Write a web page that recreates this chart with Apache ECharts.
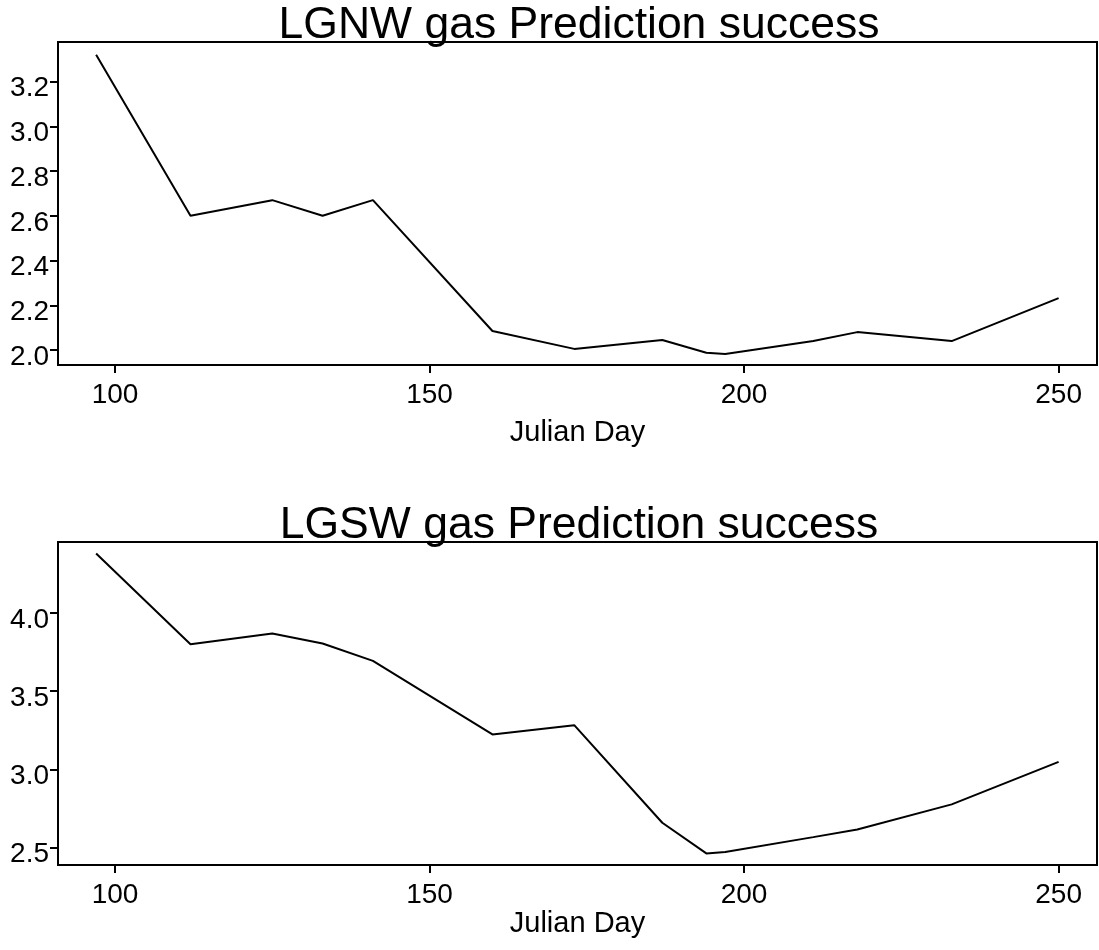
<!DOCTYPE html>
<html>
<head>
<meta charset="utf-8">
<script src="https://cdn.jsdelivr.net/npm/echarts@6/dist/echarts.min.js"></script>
<style>
html,body{margin:0;padding:0;background:#fff;}
#main{width:1099px;height:950px;}
</style>
</head>
<body>
<div id="main"></div>
<script>
// Data
const julianDays = [97, 112, 125, 133, 141, 160, 173, 187, 194, 197, 211, 218, 233, 250];
const lgnwValues = [3.32, 2.60, 2.67, 2.60, 2.67, 2.085, 2.005, 2.045, 1.988, 1.982, 2.04, 2.08, 2.04, 2.232];
const lgswValues = [4.38, 3.80, 3.868, 3.805, 3.694, 3.224, 3.283, 2.66, 2.464, 2.473, 2.568, 2.617, 2.777, 3.049];
const xTicks = [100, 150, 200, 250];
const lgnwTicks = [2.0, 2.2, 2.4, 2.6, 2.8, 3.0, 3.2];
const lgswTicks = [2.5, 3.0, 3.5, 4.0];
const titles = ['LGNW gas Prediction success', 'LGSW gas Prediction success'];
const xName = 'Julian Day';

const FONT = "'Liberation Sans', Arial, sans-serif";
const chart = echarts.init(document.getElementById('main'), null, {renderer: 'canvas'});

function pairs(xs, ys) { return xs.map((x, i) => [x, ys[i]]); }

const gridBase = {left: 58, right: 2, height: 323, show: true, borderColor: '#000', borderWidth: 2, backgroundColor: 'transparent'};

function xAxisFor(gridIndex, nameGap) {
  return {
    type: 'value', gridIndex, min: 90.94, max: 256.1,
    name: xName, nameLocation: 'middle', nameGap,
    nameTextStyle: {fontFamily: FONT, fontSize: 29, color: '#000'},
    splitLine: {show: false},
    axisLine: {show: true, onZero: false, lineStyle: {color: '#000', width: 2}},
    axisTick: {show: true, length: 8, lineStyle: {color: '#000', width: 2}, customValues: xTicks},
    axisLabel: {show: true, margin: 16, fontFamily: FONT, fontSize: 28, color: '#000', customValues: xTicks,
      formatter: v => String(Math.round(v))}
  };
}
function yAxisFor(gridIndex, min, max, ticks) {
  return {
    type: 'value', gridIndex, min, max,
    splitLine: {show: false},
    axisLine: {show: true, onZero: false, lineStyle: {color: '#000', width: 2}},
    axisTick: {show: true, length: 8, lineStyle: {color: '#000', width: 2}, customValues: ticks},
    axisLabel: {show: true, margin: 9, color: '#000', customValues: ticks,
      formatter: v => '{a|' + v.toFixed(1) + '}',
      rich: {a: {fontFamily: FONT, fontSize: 28, color: '#000', padding: [14, 0, 0, 0]}}}
  };
}

const titleStyle = {fontFamily: FONT, fontSize: 44.5, fontWeight: 'normal', color: '#000'};

chart.setOption({
  animation: false,
  backgroundColor: '#fff',
  title: [
    {text: titles[0], left: 579, textAlign: 'center', top: 3, padding: 0, textStyle: titleStyle},
    {text: titles[1], left: 579, textAlign: 'center', top: 503, padding: 0, textStyle: titleStyle}
  ],
  grid: [
    Object.assign({}, gridBase, {top: 42}),
    Object.assign({}, gridBase, {top: 542})
  ],
  xAxis: [xAxisFor(0, 53), xAxisFor(1, 42)],
  yAxis: [yAxisFor(0, 1.933, 3.377, lgnwTicks), yAxisFor(1, 2.39, 4.453, lgswTicks)],
  series: [
    {type: 'line', xAxisIndex: 0, yAxisIndex: 0, data: pairs(julianDays, lgnwValues),
     showSymbol: false, symbol: 'none', lineStyle: {color: '#000', width: 2}, itemStyle: {color: '#000'}},
    {type: 'line', xAxisIndex: 1, yAxisIndex: 1, data: pairs(julianDays, lgswValues),
     showSymbol: false, symbol: 'none', lineStyle: {color: '#000', width: 2}, itemStyle: {color: '#000'}}
  ]
});
</script>
</body>
</html>
